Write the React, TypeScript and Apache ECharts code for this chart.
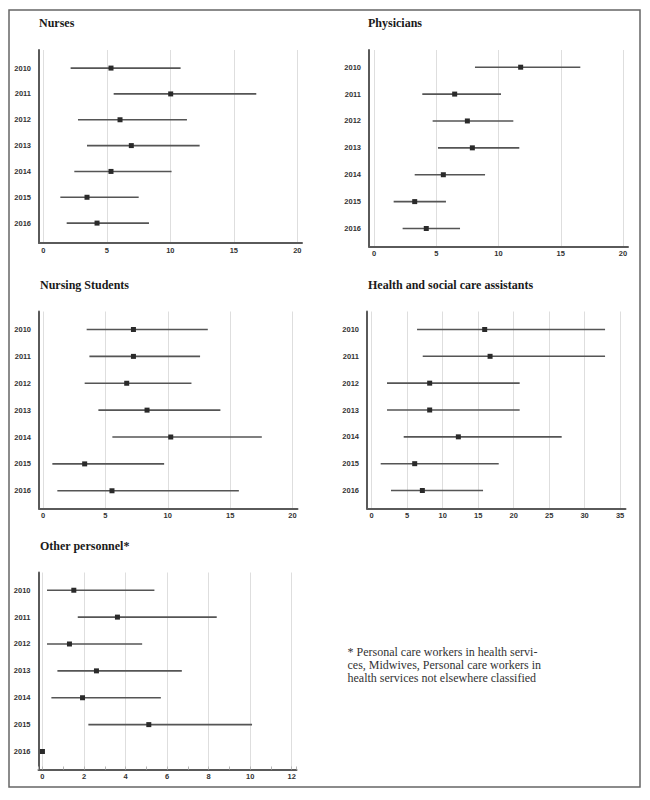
import React, { useEffect, useRef } from "react";
import * as echarts from "echarts";

const years = [2010, 2011, 2012, 2013, 2014, 2015, 2016];

const panelTitles = [
  "Nurses",
  "Physicians",
  "Nursing Students",
  "Health and social care assistants",
  "Other personnel*",
];

const nursesLow = [2.15, 5.54, 2.73, 3.44, 2.44, 1.34, 1.84];
const nursesPoint = [5.33, 10.03, 6.04, 6.93, 5.33, 3.44, 4.23];
const nursesHigh = [10.81, 16.77, 11.31, 12.31, 10.1, 7.51, 8.32];

const physiciansLow = [8.11, 3.88, 4.71, 5.14, 3.27, 1.58, 2.3];
const physiciansPoint = [11.78, 6.48, 7.5, 7.9, 5.57, 3.27, 4.2];
const physiciansHigh = [16.57, 10.2, 11.19, 11.67, 8.92, 5.78, 6.91];

const studentsLow = [3.5, 3.72, 3.34, 4.44, 5.56, 0.75, 1.15];
const studentsPoint = [7.25, 7.25, 6.71, 8.34, 10.24, 3.34, 5.53];
const studentsHigh = [13.21, 12.59, 11.9, 14.22, 17.54, 9.71, 15.7];

const assistantsLow = [6.39, 7.19, 2.16, 2.16, 4.51, 1.27, 2.72];
const assistantsPoint = [15.92, 16.68, 8.17, 8.17, 12.21, 6.06, 7.14];
const assistantsHigh = [32.88, 32.88, 20.85, 20.85, 26.77, 17.9, 15.69];

const otherLow = [0.22, 1.7, 0.22, 0.72, 0.43, 2.21, 0];
const otherPoint = [1.51, 3.61, 1.3, 2.6, 1.93, 5.12, 0];
const otherHigh = [5.39, 8.39, 4.8, 6.71, 5.7, 10.09, 0];

const xTickStep = [5, 5, 5, 5, 2];

const footnote =
  "* Personal care workers in health servi-\nces, Midwives, Personal care workers in\nhealth services not elsewhere classified";

const seriesData = [
  [nursesLow, nursesPoint, nursesHigh],
  [physiciansLow, physiciansPoint, physiciansHigh],
  [studentsLow, studentsPoint, studentsHigh],
  [assistantsLow, assistantsPoint, assistantsHigh],
  [otherLow, otherPoint, otherHigh],
];

// layout (px) and axis extents
const layout = [
  { left: 39, top: 50, width: 263, height: 193, xMin: -0.34, xMax: 20.37, yMin: 2009.3, yMax: 2016.77, tx: 39, ty: 17 },
  { left: 369, top: 50, width: 259, height: 196.5, xMin: -0.4, xMax: 20.4, yMin: 2009.36, yMax: 2016.67, tx: 368, ty: 17 },
  { left: 39, top: 311.5, width: 258.5, height: 197, xMin: -0.32, xMax: 20.4, yMin: 2009.33, yMax: 2016.66, tx: 40, ty: 279 },
  { left: 367, top: 311.5, width: 258.5, height: 197, xMin: -0.66, xMax: 35.76, yMin: 2009.33, yMax: 2016.67, tx: 368, ty: 279 },
  { left: 38.5, top: 572.5, width: 258, height: 197, xMin: -0.19, xMax: 12.23, yMin: 2009.34, yMax: 2016.67, tx: 40, ty: 540 },
];

const isMultiple = (v: number, step: number) =>
  Math.abs(v - Math.round(v / step) * step) < 1e-6;

export default function App() {
  const ref = useRef<HTMLDivElement>(null);

  useEffect(() => {
    document.body.style.margin = "0";
    if (!ref.current) return;
    const chart = echarts.init(ref.current, undefined, { renderer: "svg" });

    const grids = layout.map((l) => ({
      left: l.left,
      top: l.top,
      width: l.width,
      height: l.height,
      containLabel: false,
    }));

    const xAxes = layout.map((l, i) => ({
      type: "value",
      gridIndex: i,
      min: l.xMin,
      max: l.xMax,
      minInterval: xTickStep[i],
      maxInterval: xTickStep[i],
      axisLine: { show: true, onZero: false, lineStyle: { color: "#5a5a5a", width: 2 } },
      axisTick: i === 4
        ? { show: true, inside: true, length: 3, lineStyle: { color: "#b5b5b5" } }
        : { show: false },
      minorTick: i === 4
        ? { show: true, splitNumber: 2, length: 3, lineStyle: { color: "#b5b5b5" } }
        : { show: false },
      axisLabel: {
        show: true,
        margin: 3,
        fontSize: 7.5,
        fontWeight: "bold",
        fontFamily: "Liberation Sans, Arial, sans-serif",
        color: "#333",
        showMinLabel: false,
        showMaxLabel: false,
        formatter: (v: number) => (isMultiple(v, xTickStep[i]) ? String(Math.round(v)) : ""),
      },
      splitLine: {
        show: true,
        showMinLine: false,
        showMaxLine: false,
        lineStyle: { color: "#dedede", width: 1 },
      },
    }));

    const yAxes = layout.map((l, i) => ({
      type: "value",
      gridIndex: i,
      inverse: true,
      min: l.yMin,
      max: l.yMax,
      minInterval: 1,
      maxInterval: 1,
      axisLine: { show: true, onZero: false, lineStyle: { color: "#5a5a5a", width: 2 } },
      axisTick: { show: false },
      splitLine: { show: false },
      axisLabel: {
        show: true,
        margin: 8,
        fontSize: 7.5,
        fontWeight: "bold",
        fontFamily: "Liberation Sans, Arial, sans-serif",
        color: "#333",
        showMinLabel: false,
        showMaxLabel: false,
        formatter: (v: number) => (isMultiple(v, 1) && years.includes(Math.round(v)) ? String(Math.round(v)) : ""),
      },
    }));

    const series = seriesData.map(([lo, pt, hi], i) => ({
      type: "custom",
      xAxisIndex: i,
      yAxisIndex: i,
      clip: false,
      encode: { x: [1, 2, 3], y: 0 },
      data: years.map((y, k) => [y, lo[k], pt[k], hi[k]]),
      renderItem: (_params: any, api: any) => {
        const yv = api.value(0);
        const a = api.coord([api.value(1), yv]);
        const c = api.coord([api.value(2), yv]);
        const b = api.coord([api.value(3), yv]);
        return {
          type: "group",
          children: [
            {
              type: "line",
              shape: { x1: a[0], y1: a[1], x2: b[0], y2: b[1] },
              style: { stroke: "#555", lineWidth: 1.6 },
            },
            {
              type: "rect",
              shape: { x: c[0] - 2.5, y: c[1] - 2.5, width: 5, height: 5 },
              style: { fill: "#2a2a2a" },
            },
          ],
        };
      },
    }));

    const titles: any[] = layout.map((l, i) => ({
      text: panelTitles[i],
      left: l.tx,
      top: l.ty,
      padding: 0,
      textStyle: {
        fontFamily: "Liberation Serif, Times New Roman, serif",
        fontWeight: "bold",
        fontSize: 12,
        color: "#1a1a1a",
      },
    }));
    titles.push({
      text: footnote,
      left: 347.5,
      top: 645,
      padding: 0,
      textStyle: {
        fontFamily: "Liberation Serif, Times New Roman, serif",
        fontWeight: "normal",
        fontSize: 12,
        lineHeight: 13,
        color: "#333",
      },
    });

    chart.setOption({
      animation: false,
      backgroundColor: "#fff",
      title: titles,
      grid: grids,
      xAxis: xAxes,
      yAxis: yAxes,
      series,
      graphic: [
        {
          type: "rect",
          shape: { x: 9, y: 10, width: 631, height: 777 },
          style: { fill: "none", stroke: "#666", lineWidth: 1.5 },
          silent: true,
        },
      ],
    });

    return () => chart.dispose();
  }, []);

  return <div ref={ref} style={{ width: 650, height: 800 }} />;
}
